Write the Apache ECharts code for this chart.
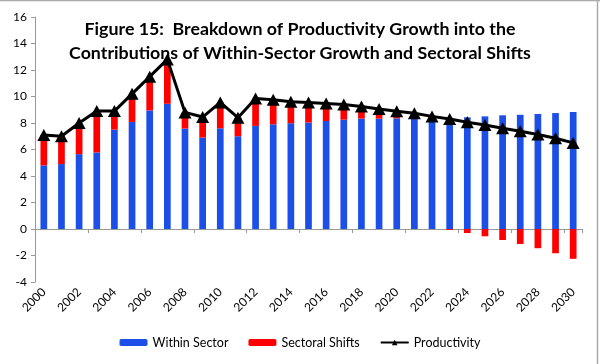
<!DOCTYPE html>
<html><head><meta charset="utf-8">
<script src="https://cdn.jsdelivr.net/npm/echarts@6/dist/echarts.min.js"></script>
<style>html,body{margin:0;padding:0;background:#fff}#c{width:600px;height:364px}</style>
</head><body><div id="c"></div>
<script>
const years = ['2000','2001','2002','2003','2004','2005','2006','2007','2008','2009','2010','2011','2012','2013','2014','2015','2016','2017','2018','2019','2020','2021','2022','2023','2024','2025','2026','2027','2028','2029','2030'];
const withinSector = [4.8,4.9,5.65,5.78,7.5,8.08,8.95,9.45,7.58,6.9,7.6,7.0,7.78,7.9,7.98,8.03,8.15,8.25,8.33,8.33,8.35,8.4,8.4,8.4,8.43,8.5,8.58,8.62,8.68,8.75,8.83];
const sectoralShifts = [2.3,2.1,2.35,3.12,1.4,2.12,2.55,3.35,1.22,1.55,1.95,1.4,2.07,1.85,1.62,1.52,1.33,1.15,0.92,0.72,0.53,0.33,0.1,-0.07,-0.3,-0.55,-0.83,-1.13,-1.45,-1.83,-2.25];
const productivity = [7.1,7.0,8.0,8.9,8.9,10.2,11.5,12.8,8.8,8.45,9.55,8.4,9.85,9.75,9.6,9.55,9.48,9.4,9.25,9.05,8.88,8.73,8.5,8.3,8.05,7.85,7.6,7.38,7.13,6.85,6.5];
const titleLines = ['Figure 15:  Breakdown of Productivity Growth into the','Contributions of Within-Sector Growth and Sectoral Shifts'];

const chart = echarts.init(document.getElementById('c'));
const font = 'Lato, "Open Sans", sans-serif';
chart.setOption({
  animation: false,
  textStyle: {fontFamily: font},
  title: {
    text: titleLines.join('\n'),
    left: 'center', top: 12,
    textStyle: {fontFamily: font, fontWeight: 'bold', fontSize: 17.8, color: '#000', lineHeight: 24}
  },
  graphic: [
    {type: 'line', shape: {x1: 0, y1: 0.5, x2: 600, y2: 0.5}, style: {stroke: '#aaa', lineWidth: 1.5}},
    {type: 'line', shape: {x1: 597.5, y1: 0, x2: 597.5, y2: 364}, style: {stroke: '#aaa', lineWidth: 1.5}}
  ],
  legend: {
    bottom: 10, left: 'center',
    itemWidth: 28, itemHeight: 7, itemGap: 20,
    textStyle: {fontFamily: font, fontSize: 12.5, color: '#000'},
    data: ['Within Sector', 'Sectoral Shifts', 'Productivity']
  },
  grid: {left: 35, right: 18, top: 17, bottom: 82},
  xAxis: [
    {type: 'category', data: years, position: 'bottom',
     axisLine: {onZero: true, lineStyle: {color: '#999', width: 1}},
     axisTick: {show: true, alignWithLabel: false, length: 4, lineStyle: {color: '#999'}},
     axisLabel: {show: false}},
    {type: 'category', data: years, position: 'bottom',
     axisLine: {show: false, onZero: false}, axisTick: {show: false},
     axisLabel: {interval: 1, rotate: 45, fontSize: 12, color: '#000', margin: 8, fontFamily: font}}
  ],
  yAxis: {
    type: 'value', min: -4, max: 16, interval: 2,
    splitLine: {show: false},
    axisLine: {show: true, lineStyle: {color: '#999'}},
    axisTick: {show: true, length: 4, lineStyle: {color: '#999'}},
    axisLabel: {fontSize: 12, color: '#000', margin: 8, fontFamily: font}
  },
  series: [
    {name: 'Within Sector', type: 'bar', stack: 'a', data: withinSector, barWidth: '38%',
     itemStyle: {color: '#1C4FE8'}},
    {name: 'Sectoral Shifts', type: 'bar', stack: 'a', data: sectoralShifts, barWidth: '38%',
     itemStyle: {color: '#FF0000'}},
    {name: 'Productivity', type: 'line', data: productivity, symbol: 'triangle', symbolSize: [13, 12],
     showSymbol: true, showAllSymbol: true,
     lineStyle: {color: '#000', width: 3}, itemStyle: {color: '#000'}, z: 5}
  ]
});
</script></body></html>
